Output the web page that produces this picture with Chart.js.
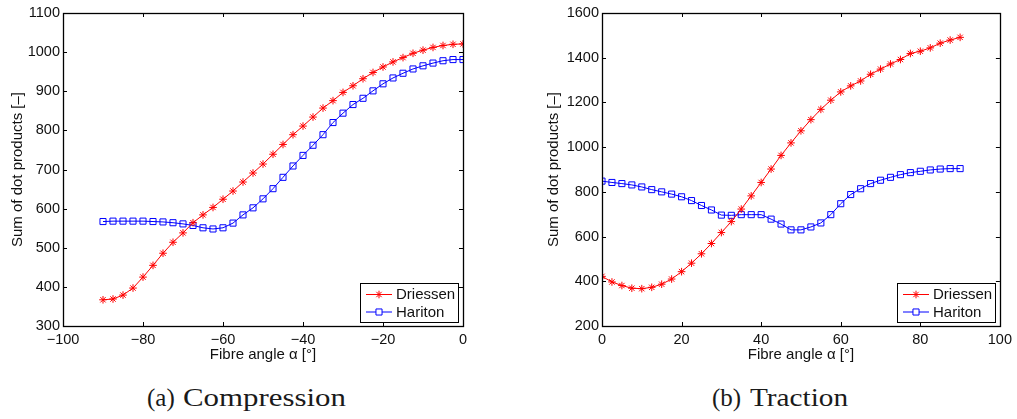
<!DOCTYPE html>
<html>
<head>
<meta charset="utf-8">
<script src="https://cdn.jsdelivr.net/npm/chart.js@4.4.1/dist/chart.umd.min.js"></script>
<style>
  body { margin: 0; background: #fff; }
  #wrap { position: relative; width: 1017px; height: 419px; overflow: hidden; background: #fff; }
  #wrap canvas { position: absolute; top: 0; }
  .cap { position: absolute; top: 385px; font-family: "Liberation Serif", serif; font-size: 25px; line-height: 25px;
         color: #1a1a1a; white-space: nowrap; transform-origin: 0 0; }
</style>
</head>
<body>
<div id="wrap">
  <canvas id="compression" width="500" height="380" style="left:0px"></canvas>
  <canvas id="traction" width="507" height="380" style="left:510px"></canvas>
  <span class="cap" style="left:147px">(a)</span>
  <span class="cap" style="left:183px;transform:scaleX(1.235)">Compression</span>
  <span class="cap" style="left:712px">(b)</span>
  <span class="cap" style="left:750px;transform:scaleX(1.17)">Traction</span>
</div>
<script>
// ===== Data =====
const anglesComp = [-90,-87.5,-85,-82.5,-80,-77.5,-75,-72.5,-70,-67.5,-65,-62.5,-60,-57.5,-55,-52.5,-50,-47.5,
  -45,-42.5,-40,-37.5,-35,-32.5,-30,-27.5,-25,-22.5,-20,-17.5,-15,-12.5,-10,-7.5,-5,-2.5,0];
const driessenComp = [367,369,379,397,425,455,486,514,538,564,584,603,624,645,668,691,714,739,
  764,789,811,834,857,876,897,914,932,948,962,975,986,997,1005,1012,1017,1020,1021];
const haritonComp = [567,568,568,568,568,567,566,564,561,557,551,548,551,563,584,602,625,651,
  680,709,736,762,789,820,844,866,882,901,919,934,946,957,965,972,978,981,981];

const anglesTrac = [0,2.5,5,7.5,10,12.5,15,17.5,20,22.5,25,27.5,30,32.5,35,37.5,40,42.5,45,47.5,
  50,52.5,55,57.5,60,62.5,65,67.5,70,72.5,75,77.5,80,82.5,85,87.5,90];
const driessenTrac = [422,397,381,369,367,373,387,410,443,481,523,569,618,667,723,782,842,902,963,1019,
  1073,1123,1169,1210,1247,1274,1296,1326,1349,1372,1392,1419,1429,1444,1465,1479,1491];
const haritonTrac = [848,842,837,831,822,810,800,790,778,761,739,719,696,695,698,698,698,678,656,630,
  630,643,661,698,747,788,814,837,852,865,877,886,892,898,902,904,904];

const seriesNames = ["Driessen", "Hariton"];
const xTitle = "Fibre angle \u03b1 [\u00b0]";
const yTitle = "Sum of dot products [\u2013]";

// ===== Helpers =====
const FONT = '"Liberation Sans", Arial, sans-serif';
const pts = (xs, ys) => xs.map((x, i) => ({x: x, y: ys[i]}));
const minusSign = v => String(v).replace("-", "\u2212");

// box round the axes with inward ticks on all four sides, plus the boxed legend
const matlabAxes = {
  id: "matlabAxes",
  afterDatasetsDraw(chart) {
    const {ctx, chartArea: a, scales} = chart;
    const tl = 4;
    ctx.save();
    ctx.strokeStyle = "#000";
    ctx.lineWidth = 1;
    ctx.beginPath();
    scales.x.ticks.forEach(t => {
      const px = Math.round(scales.x.getPixelForValue(t.value)) + 0.5;
      ctx.moveTo(px, a.bottom); ctx.lineTo(px, a.bottom - tl);
      ctx.moveTo(px, a.top); ctx.lineTo(px, a.top + tl);
    });
    scales.y.ticks.forEach(t => {
      const py = Math.round(scales.y.getPixelForValue(t.value)) + 0.5;
      ctx.moveTo(a.left, py); ctx.lineTo(a.left + tl, py);
      ctx.moveTo(a.right, py); ctx.lineTo(a.right - tl, py);
    });
    ctx.stroke();
    ctx.lineWidth = 1.3;
    ctx.strokeRect(Math.round(a.left) + 0.5, Math.round(a.top) + 0.5,
      Math.round(a.right - a.left), Math.round(a.bottom - a.top));

    // legend
    const w = 98, h = 39;
    const bx = Math.round(a.right) - 5 - w, by = Math.round(a.bottom) - 4 - h;
    ctx.fillStyle = "#fff";
    ctx.fillRect(bx, by, w, h);
    ctx.lineWidth = 1;
    ctx.strokeRect(bx + 0.5, by + 0.5, w, h);
    ctx.font = "15px " + FONT;
    ctx.textBaseline = "middle";
    chart.data.datasets.forEach((ds, i) => {
      const ry = by + 11.5 + i * 17.5;
      ctx.strokeStyle = ds.borderColor;
      ctx.lineWidth = 1;
      ctx.beginPath();
      ctx.moveTo(bx + 6, ry); ctx.lineTo(bx + 32, ry);
      ctx.stroke();
      ctx.fillStyle = "#fff";
      Chart.helpers.drawPoint(ctx, {pointStyle: ds.pointStyle, radius: ds.pointRadius, borderWidth: 1, rotation: 0},
        bx + 19, ry);
      ctx.fillStyle = "#111";
      ctx.fillText(ds.label, bx + 36, ry + 0.5);
    });
    ctx.restore();
  }
};

function makeChart(id, xs, d1, d2, xr, yr, yAxisWidth, titlePad, rightPad) {
  return new Chart(document.getElementById(id), {
    type: "line",
    data: {
      datasets: [
        {label: seriesNames[0], data: pts(xs, d1), borderColor: "#ff0000", backgroundColor: "#ff0000",
         borderWidth: 1, pointStyle: "star", pointRadius: 3.8, pointBorderWidth: 1, tension: 0},
        {label: seriesNames[1], data: pts(xs, d2), borderColor: "#0000ff", backgroundColor: "rgba(0,0,0,0)",
         borderWidth: 1, pointStyle: "rect", pointRadius: 4.3, pointBorderWidth: 1, tension: 0}
      ]
    },
    options: {
      responsive: false,
      animation: false,
      layout: {padding: {top: 13, left: 0, right: rightPad, bottom: 14}},
      plugins: {legend: {display: false}, tooltip: {enabled: false}},
      scales: {
        x: {
          type: "linear", min: xr[0], max: xr[1],
          grid: {display: false, drawTicks: false}, border: {display: false},
          ticks: {stepSize: 20, padding: 5, color: "#111", font: {family: FONT, size: 14.5}, callback: minusSign},
          title: {display: true, text: xTitle, color: "#111", font: {family: FONT, size: 15}, padding: {top: 0, bottom: 2}},
          afterFit: s => { s.height = 40; }
        },
        y: {
          min: yr[0], max: yr[1],
          grid: {display: false, drawTicks: false}, border: {display: false},
          ticks: {stepSize: yr[2], padding: 3, color: "#111", font: {family: FONT, size: 14.5}, callback: minusSign},
          title: {display: true, text: yTitle, color: "#111", font: {family: FONT, size: 15}, padding: {top: titlePad, bottom: 0}},
          afterFit: s => { s.width = yAxisWidth; }
        }
      }
    },
    plugins: [matlabAxes]
  });
}

makeChart("compression", anglesComp, driessenComp, haritonComp, [-100, 0], [300, 1100, 100], 63, 9, 37);
makeChart("traction", anglesTrac, driessenTrac, haritonTrac, [0, 100], [200, 1600, 200], 92, 35, 15);
</script>
</body>
</html>
